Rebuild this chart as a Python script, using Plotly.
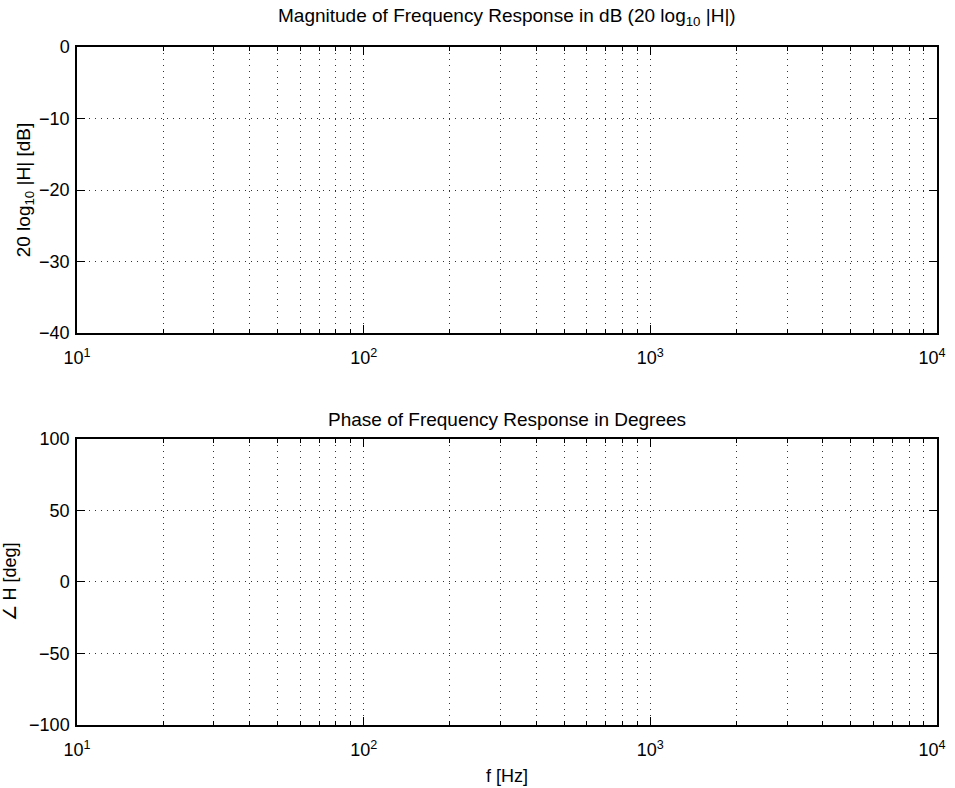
import plotly.graph_objects as go
from plotly.subplots import make_subplots

# Data (the reference plot shows empty axes)
freq_hz = []
magnitude_db = []
phase_deg = []

x_major_vals = [10, 100, 1000, 10000]
x_major_text = ["10<sup>1</sup>", "10<sup>2</sup>", "10<sup>3</sup>",
                "10<sup>4</sup>\u00a0\u00a0"]
x_minor_vals = [m * d for d in (10, 100, 1000) for m in range(2, 10)]
mag_ticks = [-40, -30, -20, -10, 0]
phase_ticks = [-100, -50, 0, 50, 100]

font = "Liberation Sans, Arial, Helvetica, sans-serif"
TICK = 18
LAB = 19

fig = make_subplots(rows=2, cols=1, vertical_spacing=0.156)
fig.add_trace(go.Scatter(x=freq_hz, y=magnitude_db, mode="lines",
                         line=dict(color="blue")), row=1, col=1)
fig.add_trace(go.Scatter(x=freq_hz, y=phase_deg, mode="lines",
                         line=dict(color="blue")), row=2, col=1)

grid_dash = "1px,5px"
gcol = "rgba(0,0,0,0.8)"
for r in (1, 2):
    fig.update_xaxes(
        type="log", range=[1, 4],
        tickvals=x_major_vals, ticktext=x_major_text,
        ticks="inside", ticklen=8, tickwidth=1, tickcolor="black",
        showline=True, linecolor="black", linewidth=1.5, mirror="ticks",
        showgrid=True, gridcolor=gcol, gridwidth=1, griddash=grid_dash,
        minor=dict(tickvals=x_minor_vals, ticks="inside", ticklen=4,
                   tickcolor="black", showgrid=True,
                   gridcolor=gcol, gridwidth=1, griddash=grid_dash),
        zeroline=False, automargin=False, ticklabeloverflow="allow",
        ticklabelstandoff=8,
        tickfont=dict(family=font, size=TICK, color="black"),
        row=r, col=1)

fig.update_yaxes(range=[-40, 0], tickvals=mag_ticks, row=1, col=1,
                 title=dict(text="20 log<sub>10</sub> |H| [dB]", standoff=3,
                            font=dict(family=font, size=LAB, color="black")))
fig.update_yaxes(range=[-100, 100], tickvals=phase_ticks, row=2, col=1,
                 title=dict(text="∠ H [deg]", standoff=8,
                            font=dict(family=font, size=18, color="black")))
fig.update_yaxes(
    ticks="inside", ticklen=8, tickwidth=1, tickcolor="black",
    showline=True, linecolor="black", linewidth=1.5, mirror="ticks",
    showgrid=True, gridcolor=gcol, gridwidth=1, griddash=grid_dash,
    zeroline=False, automargin=False, ticklabeloverflow="allow",
    ticklabelstandoff=2,
    tickfont=dict(family=font, size=TICK, color="black"))

fig.update_xaxes(title=dict(text="f [Hz]", standoff=10,
                            font=dict(family=font, size=18, color="black")),
                 row=2, col=1)

fig.add_annotation(text="Magnitude of Frequency Response in dB (20 log<sub>10</sub> |H|)",
                   xref="paper", yref="paper", x=0.5, y=1.0, yshift=30,
                   xanchor="center", yanchor="middle", showarrow=False,
                   font=dict(family=font, size=LAB, color="black"))
fig.add_annotation(text="Phase of Frequency Response in Degrees",
                   xref="paper", yref="paper", x=0.5, y=0.4218, yshift=20,
                   xanchor="center", yanchor="middle", showarrow=False,
                   font=dict(family=font, size=LAB, color="black"))

fig.update_layout(
    width=955, height=788,
    margin=dict(l=77, r=18, t=47, b=63),
    paper_bgcolor="white", plot_bgcolor="white",
    showlegend=False,
    font=dict(family=font, size=TICK, color="black"),
)

# remove the browser's default 8px body margin so the figure fills the window
fig.write_html("out.html",
               config={"displayModeBar": False},
               post_script="document.body.style.margin='0';"
                           "document.documentElement.style.overflow='hidden';")
